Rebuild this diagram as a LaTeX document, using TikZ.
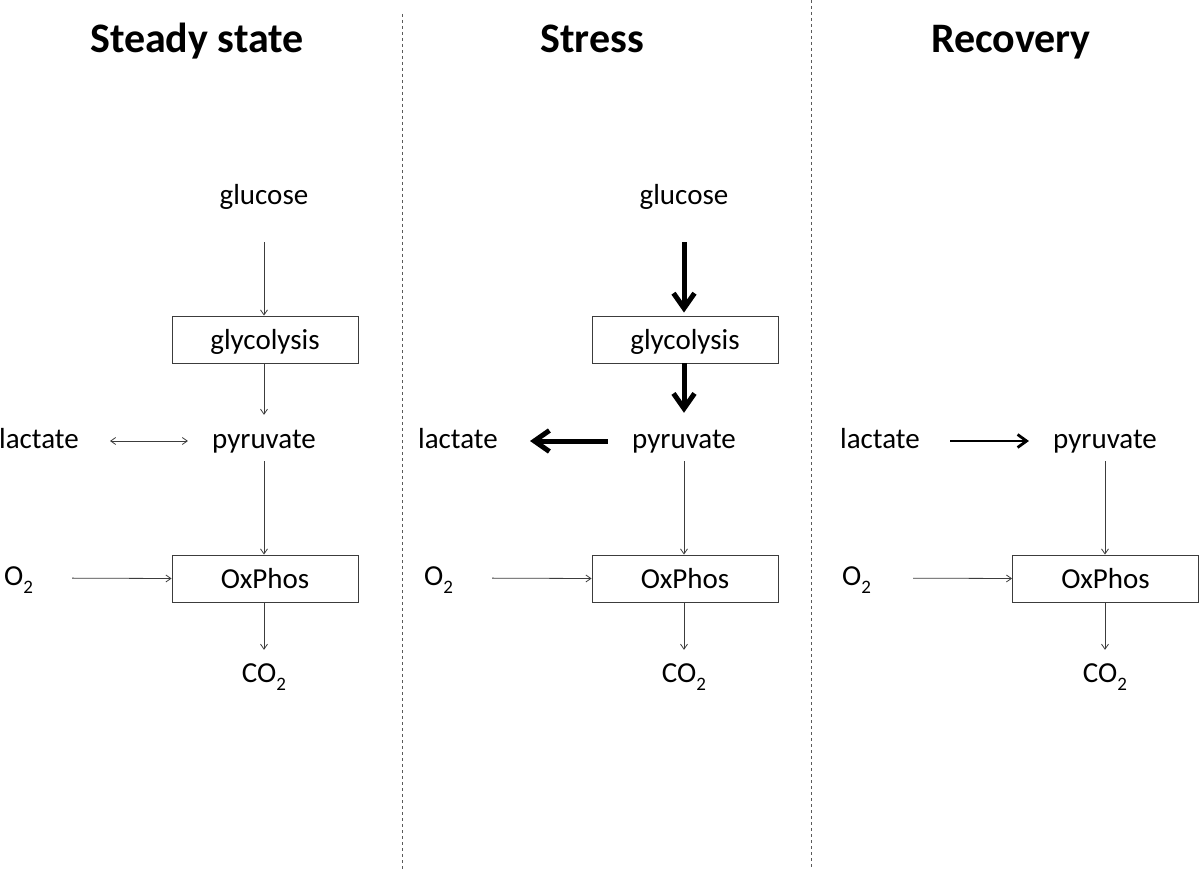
\documentclass[tikz,border=0pt]{standalone}
\usepackage{fontspec}
\setmainfont{Carlito}
\usetikzlibrary{arrows.meta}
\definecolor{linegray}{RGB}{60,60,60}
\definecolor{dashgray}{RGB}{90,90,90}
\newcommand{\mysub}[1]{\raisebox{-0.28em}{\fontsize{19}{20}\selectfont #1}}
\tikzset{
  lbl/.style={inner sep=0pt, anchor=base, text height=20pt, text depth=6pt, font=\fontsize{29}{34}\selectfont},
  ttl/.style={inner sep=0pt, anchor=base, font=\bfseries\fontsize{42}{48}\selectfont},
  procbox/.style={draw=linegray, line width=0.9pt, inner sep=0pt, minimum width=186pt, minimum height=47pt,
     text height=23pt, text depth=3pt, font=\fontsize{29}{34}\selectfont},
  thin/.style={draw=linegray, line width=0.8pt, -{Straight Barb[length=5pt,width=7pt]}},
  thinboth/.style={draw=linegray, line width=0.8pt, {Straight Barb[length=5pt,width=7pt]}-{Straight Barb[length=5pt,width=7pt]}},
  thick/.style={draw=black, line width=5pt, -{Straight Barb[length=15pt,width=21pt]}},
  medium/.style={draw=black, line width=2.8pt, -{Straight Barb[length=9pt,width=13pt]}},
  sep/.style={draw=dashgray, line width=0.8pt, dash pattern=on 3pt off 3pt}
}
\begin{document}
\begin{tikzpicture}[x=1pt,y=-1pt]
\useasboundingbox (0,0) rectangle (1200,869);
\fill[white] (0,0) rectangle (1200,869);

% separators
\draw[sep] (402,14) -- (402,869);
\draw[sep] (811,0) -- (811,869);

% titles
\node[ttl] (t1) at (197,53) {Steady state};
\node[ttl] (t2) at (592,53) {Stress};
\node[ttl] (t3) at (1011,53) {Recovery};

% ---------- Panel 1: Steady state ----------
\node[lbl] (glu1) at (264,205) {glucose};
\node[procbox] (gly1) at (265,339.5) {glycolysis};
\node[lbl] (pyr1) at (264,448) {pyruvate};
\node[lbl] (lac1) at (39,448) {lactate};
\node[procbox] (ox1) at (265,578.5) {OxPhos};
\node[lbl, anchor=base west] (o1) at (4,585) {O\mysub{2}};
\node[lbl] (co1) at (264,682) {CO\mysub{2}};

\draw[thin, shorten <=31pt] (glu1.south) -- (gly1.north -| glu1.south);
\draw[thin, shorten >=13pt] (gly1.south -| pyr1.north) -- (pyr1.north);
\draw[thinboth, shorten <=31pt, shorten >=24pt] (lac1.east) -- (pyr1.west);
\draw[thin, shorten <=7pt] (pyr1.south) -- (ox1.north -| pyr1.south);
\draw[thin, shorten <=39pt] (o1.east) -- (ox1.west);
\draw[thin, shorten >=12pt] (ox1.south -| co1.north) -- (co1.north);

% ---------- Panel 2: Stress ----------
\node[lbl] (glu2) at (684,205) {glucose};
\node[procbox] (gly2) at (685,339.5) {glycolysis};
\node[lbl] (pyr2) at (684,448) {pyruvate};
\node[lbl] (lac2) at (458,448) {lactate};
\node[procbox] (ox2) at (685,578.5) {OxPhos};
\node[lbl, anchor=base west] (o2) at (424,585) {O\mysub{2}};
\node[lbl] (co2) at (684,682) {CO\mysub{2}};

\draw[thick, shorten <=31pt, shorten >=3pt] (glu2.south) -- (gly2.north -| glu2.south);
\draw[thick, shorten >=15pt] (gly2.south -| pyr2.north) -- (pyr2.north);
\draw[thick, shorten <=24pt, shorten >=32pt] (pyr2.west) -- (lac2.east);
\draw[thin, shorten <=7pt] (pyr2.south) -- (ox2.north -| pyr2.south);
\draw[thin, shorten <=39pt] (o2.east) -- (ox2.west);
\draw[thin, shorten >=12pt] (ox2.south -| co2.north) -- (co2.north);

% ---------- Panel 3: Recovery ----------
\node[lbl] (pyr3) at (1105,448) {pyruvate};
\node[lbl] (lac3) at (880,448) {lactate};
\node[procbox] (ox3) at (1105.5,578.5) {OxPhos};
\node[lbl, anchor=base west] (o3) at (842,585) {O\mysub{2}};
\node[lbl] (co3) at (1105,682) {CO\mysub{2}};

\draw[medium, shorten <=30pt, shorten >=24pt] (lac3.east) -- (pyr3.west);
\draw[thin, shorten <=7pt] (pyr3.south) -- (ox3.north -| pyr3.south);
\draw[thin, shorten <=42pt] (o3.east) -- (ox3.west);
\draw[thin, shorten >=12pt] (ox3.south -| co3.north) -- (co3.north);
\end{tikzpicture}
\end{document}
